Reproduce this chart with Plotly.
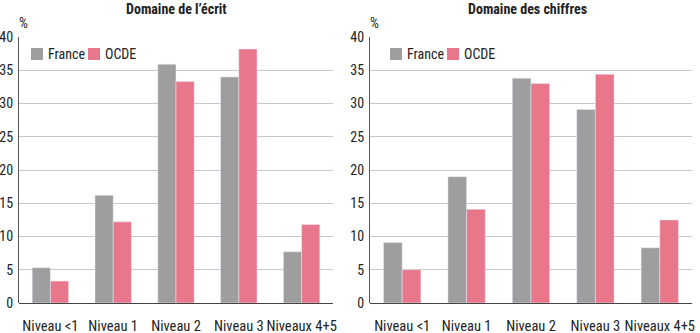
import plotly.graph_objects as go

categories = ["Niveau <1", "Niveau 1", "Niveau 2", "Niveau 3", "Niveaux 4+5"]
ecrit_france = [5.3, 16.2, 35.9, 34.0, 7.7]
ecrit_ocde = [3.3, 12.2, 33.3, 38.2, 11.8]
chiffres_france = [9.1, 19.0, 33.8, 29.1, 8.3]
chiffres_ocde = [5.0, 14.1, 33.0, 34.4, 12.5]
y_ticks = [0, 5, 10, 15, 20, 25, 30, 35, 40]

GRAY = "#9e9e9e"
PINK = "#e8778b"
FONT = "Liberation Sans Narrow, Roboto Condensed, Arial Narrow, Roboto, sans-serif"

fig = go.Figure()
fig.add_trace(go.Bar(x=categories, y=ecrit_france, name="France", marker_color=GRAY,
                     xaxis="x", yaxis="y", showlegend=False))
fig.add_trace(go.Bar(x=categories, y=ecrit_ocde, name="OCDE", marker_color=PINK,
                     xaxis="x", yaxis="y", showlegend=False))
fig.add_trace(go.Bar(x=categories, y=chiffres_france, name="France", marker_color=GRAY,
                     xaxis="x2", yaxis="y2", showlegend=False))
fig.add_trace(go.Bar(x=categories, y=chiffres_ocde, name="OCDE", marker_color=PINK,
                     xaxis="x2", yaxis="y2", showlegend=False))

ydom = [30 / 333, 296 / 333]
common_y = dict(range=[0, 40], tickvals=y_ticks, showgrid=True, gridcolor="#c8c8c8",
                gridwidth=1, showline=True, linecolor="#555555", linewidth=1.2,
                zeroline=True, zerolinecolor="#444444", zerolinewidth=1.2,
                ticks="", tickfont=dict(size=14, color="#222222"), ticklabelstandoff=2,
                domain=ydom, fixedrange=True, automargin=False)
common_x = dict(showgrid=False, showline=False, ticks="", tickfont=dict(size=14.5, color="#222222"),
                ticklabelstandoff=12, fixedrange=True, automargin=False, tickangle=0)

fig.update_layout(
    width=700, height=333,
    margin=dict(l=0, r=0, t=0, b=0, autoexpand=False),
    paper_bgcolor="white", plot_bgcolor="white",
    font=dict(family=FONT, color="#222222"),
    barmode="group", bargap=0.42, bargroupgap=0,
    xaxis=dict(domain=[19 / 700, 333 / 700], anchor="y", **common_x),
    yaxis=dict(anchor="x", **common_y),
    xaxis2=dict(domain=[370 / 700, 692 / 700], anchor="y2", **common_x),
    yaxis2=dict(anchor="x2", **common_y),
)

annotations = [
    dict(text="<b>Domaine de l’écrit</b>", x=176 / 700, y=1 - 9 / 333, size=14),
    dict(text="<b>Domaine des chiffres</b>", x=527 / 700, y=1 - 9 / 333, size=14),
    dict(text="%", x=23 / 700, y=1 - 23 / 333, size=14),
    dict(text="%", x=374 / 700, y=1 - 23 / 333, size=14),
]
for a in annotations:
    size = a.pop("size")
    fig.add_annotation(xref="paper", yref="paper", showarrow=False,
                       xanchor="center", yanchor="middle",
                       font=dict(size=size, color="#222222", family=FONT), **a)

# legends
for x0 in [31, 390]:
    for i, (lab, col) in enumerate([("France", GRAY), ("OCDE", PINK)]):
        xs = x0 + i * 57
        fig.add_shape(type="rect", xref="paper", yref="paper",
                      x0=xs / 700, x1=(xs + 12) / 700,
                      y0=1 - 60 / 333, y1=1 - 48 / 333,
                      fillcolor=col, line=dict(width=0))
        fig.add_annotation(xref="paper", yref="paper", showarrow=False,
                           x=(xs + 15) / 700, y=1 - 54 / 333, xanchor="left", yanchor="middle",
                           text=lab, font=dict(size=14, color="#222222", family=FONT))

fig.write_html("out.html")
